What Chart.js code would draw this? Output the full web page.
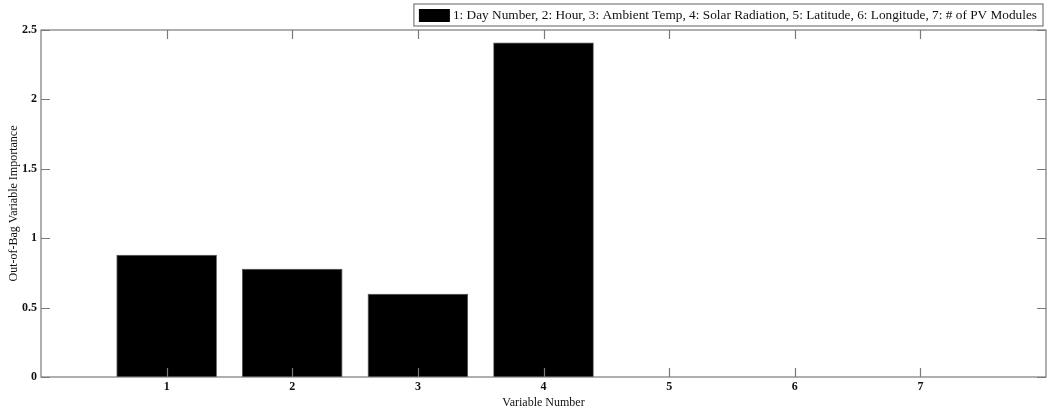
<!DOCTYPE html>
<html>
<head>
<meta charset="utf-8">
<script src="https://cdn.jsdelivr.net/npm/chart.js@4.4.0/dist/chart.umd.min.js"></script>
<style>
html, body { margin: 0; padding: 0; background: #fff; }
#wrap { width: 1049px; height: 410px; }
</style>
</head>
<body>
<div id="wrap"><canvas id="oobChart"></canvas></div>
<script>
// valeurs
const variableNumbers = [1, 2, 3, 4, 5, 6, 7];
const importance = [0.88, 0.78, 0.60, 2.41, 0, 0, 0];
const yTicks = [0, 0.5, 1, 1.5, 2, 2.5];
const legendLabel = '1: Day Number, 2: Hour, 3: Ambient Temp, 4: Solar Radiation, 5: Latitude, 6: Longitude, 7: # of PV Modules';

const police = '"Liberation Serif", "Times New Roman", serif';
const axeCouleur = '#7a7a7a';

// cadre + graduations vers l'interieur (style MATLAB)
const cadreTicks = {
    id: 'cadreTicks',
    afterDatasetsDraw(chart) {
        const { ctx, chartArea: a, scales: { x, y } } = chart;
        const L = 9;
        ctx.save();
        ctx.strokeStyle = axeCouleur;
        ctx.lineWidth = 1.2;
        ctx.strokeRect(a.left, a.top, a.right - a.left, a.bottom - a.top);
        ctx.beginPath();
        x.ticks.forEach(t => {
            const px = Math.round(x.getPixelForValue(t.value)) + 0.5;
            ctx.moveTo(px, a.bottom); ctx.lineTo(px, a.bottom - L);
            ctx.moveTo(px, a.top); ctx.lineTo(px, a.top + L);
        });
        y.ticks.forEach(t => {
            const py = Math.round(y.getPixelForValue(t.value)) + 0.5;
            ctx.moveTo(a.left, py); ctx.lineTo(a.left + L, py);
            ctx.moveTo(a.right, py); ctx.lineTo(a.right - L, py);
        });
        ctx.stroke();
        ctx.restore();
    }
};

// legende encadree en haut a droite
const legendeBoite = {
    id: 'legendeBoite',
    afterDraw(chart) {
        const { ctx, chartArea: a } = chart;
        const ds = chart.data.datasets[0];
        ctx.save();
        ctx.font = '13.3px ' + police;
        const tw = ctx.measureText(ds.label).width;
        const right = a.right - 3;
        const top = a.top - 26;
        const h = 22;
        const w = 5 + 31 + 3 + tw + 6;
        const left = right - w;
        ctx.fillStyle = '#fff';
        ctx.fillRect(left, top, w, h);
        ctx.strokeStyle = axeCouleur;
        ctx.lineWidth = 1.2;
        ctx.strokeRect(left, top, w, h);
        ctx.fillStyle = ds.backgroundColor;
        ctx.fillRect(left + 5, top + 5, 31, 13);
        ctx.fillStyle = '#111';
        ctx.textBaseline = 'middle';
        ctx.fillText(ds.label, left + 39, top + h / 2 + 0.5);
        ctx.restore();
    }
};

const ctx = document.getElementById('oobChart').getContext('2d');
new Chart(ctx, {
    type: 'bar',
    data: {
        datasets: [{
            label: legendLabel,
            data: variableNumbers.map((v, i) => ({ x: v, y: importance[i] })),
            backgroundColor: '#000',
            borderColor: '#444',
            borderWidth: 0.8,
            barPercentage: 0.8,
            categoryPercentage: 1
        }]
    },
    options: {
        responsive: true,
        maintainAspectRatio: false,
        animation: false,
        layout: { padding: { top: 30, right: 3, left: 0, bottom: 0 } },
        plugins: {
            legend: { display: false },
            tooltip: { enabled: false }
        },
        scales: {
            x: {
                type: 'linear',
                min: 0,
                max: 8,
                offset: false,
                afterBuildTicks: s => { s.ticks = variableNumbers.map(v => ({ value: v })); },
                afterFit: s => { s.height = 33; },
                grid: { display: false, drawTicks: false },
                border: { display: false },
                ticks: {
                    color: '#111',
                    font: { family: police, size: 12, weight: 'bold' },
                    padding: 3,
                    maxRotation: 0
                },
                title: {
                    display: true,
                    text: 'Variable Number',
                    color: '#111',
                    font: { family: police, size: 12 },
                    padding: { top: 0, bottom: 0 }
                }
            },
            y: {
                min: 0,
                max: 2.5,
                afterBuildTicks: s => { s.ticks = yTicks.map(v => ({ value: v })); },
                afterFit: s => { s.width = 41; },
                grid: { display: false, drawTicks: false },
                border: { display: false },
                ticks: {
                    color: '#111',
                    font: { family: police, size: 12, weight: 'bold' },
                    padding: 4,
                    callback: v => String(v)
                },
                title: {
                    display: true,
                    text: 'Out-of-Bag Variable Importance',
                    color: '#111',
                    font: { family: police, size: 12 },
                    padding: { top: 7, bottom: 0 }
                }
            }
        }
    },
    plugins: [cadreTicks, legendeBoite]
});
</script>
</body>
</html>
